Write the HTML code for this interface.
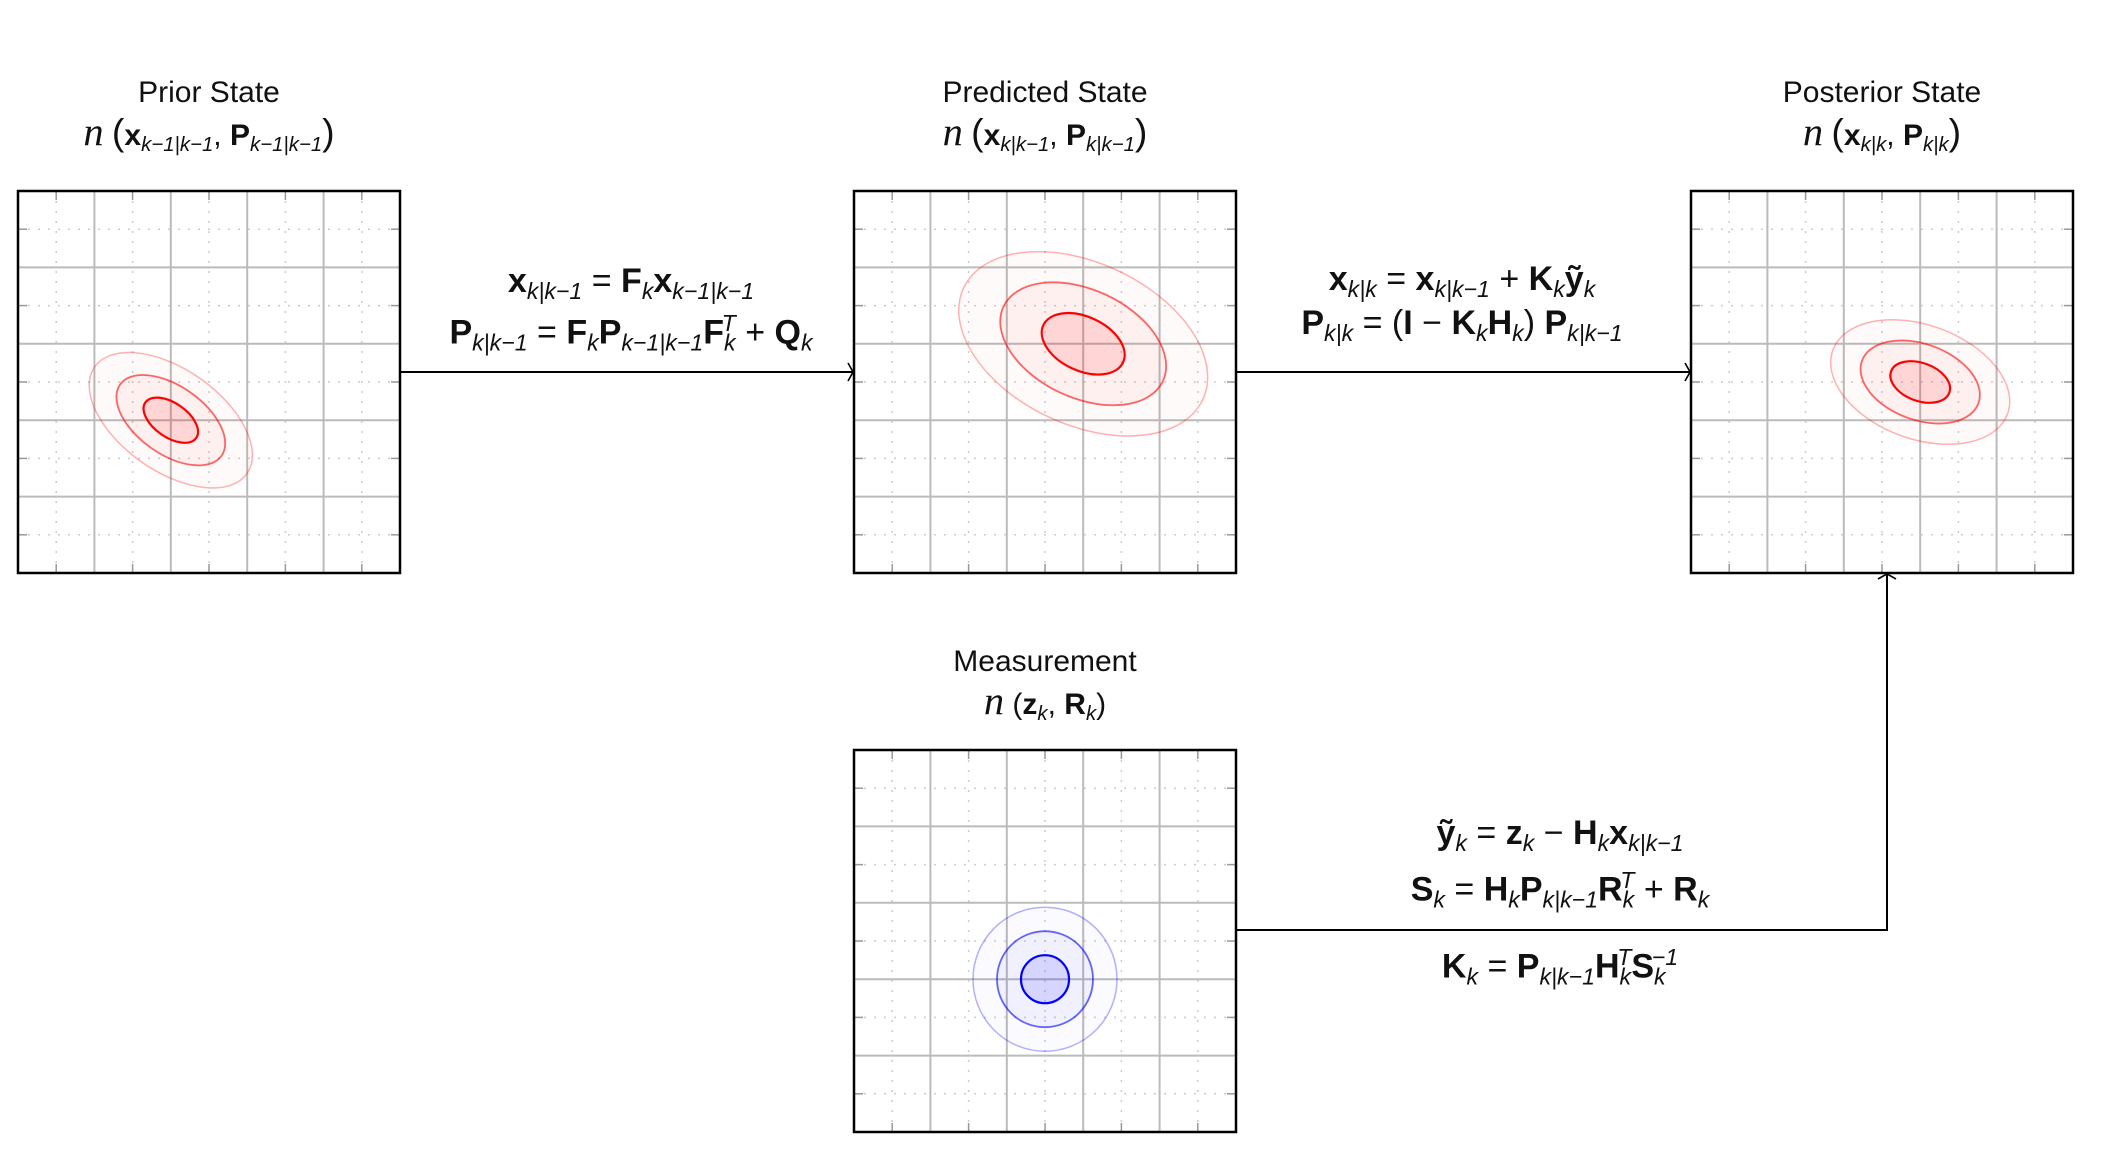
<!DOCTYPE html>
<html><head><meta charset="utf-8"><style>
html,body{margin:0;padding:0;background:#fff;}
#root{position:relative;width:2113px;height:1165px;overflow:hidden;font-family:"Liberation Sans",sans-serif;color:#111;}
.t{position:absolute;transform:translateX(-50%);white-space:nowrap;text-align:center;}
.title{font-size:30px;}
.eq{font-size:34px;line-height:34px;}
b{font-weight:bold;}
i{font-style:italic;}
sub,sup{font-size:0.68em;font-style:italic;}
sub{vertical-align:-0.3em;}
sup{vertical-align:0.55em;}
.N{font-family:"Liberation Serif",serif;font-style:italic;font-size:1.35em;}
.pa{font-size:1.25em;font-weight:normal;}
svg{position:absolute;left:0;top:0;}
</style></head><body>
<div id="root">
<svg id="svg" width="2113" height="1165"></svg>

<div class="t title" style="left:209px;top:76px;">Prior State</div>
<div class="t title" style="left:209px;top:108px;"><span class="N">n</span> <span class="pa">(</span><b>x</b><sub>k−1|k−1</sub>, <b>P</b><sub>k−1|k−1</sub><span class="pa">)</span></div>

<div class="t title" style="left:1045px;top:76px;">Predicted State</div>
<div class="t title" style="left:1045px;top:108px;"><span class="N">n</span> <span class="pa">(</span><b>x</b><sub>k|k−1</sub>, <b>P</b><sub>k|k−1</sub><span class="pa">)</span></div>

<div class="t title" style="left:1882px;top:76px;">Posterior State</div>
<div class="t title" style="left:1882px;top:108px;"><span class="N">n</span> <span class="pa">(</span><b>x</b><sub>k|k</sub>, <b>P</b><sub>k|k</sub><span class="pa">)</span></div>

<div class="t title" style="left:1045px;top:645px;">Measurement</div>
<div class="t title" style="left:1045px;top:677px;"><span class="N">n</span> (<b>z</b><sub>k</sub>, <b>R</b><sub>k</sub>)</div>

<div class="t eq" style="left:631px;top:264px;"><b>x</b><sub>k|k−1</sub> = <b>F</b><sub>k</sub><b>x</b><sub>k−1|k−1</sub></div>
<div class="t eq" style="left:631px;top:306px;"><b>P</b><sub>k|k−1</sub> = <b>F</b><sub>k</sub><b>P</b><sub>k−1|k−1</sub><b>F</b><sub>k</sub><sup style="margin-left:-0.6em">T</sup> + <b>Q</b><sub>k</sub></div>

<div class="t eq" style="left:1462px;top:262px;"><b>x</b><sub>k|k</sub> = <b>x</b><sub>k|k−1</sub> + <b>K</b><sub>k</sub><b>ỹ</b><sub>k</sub></div>
<div class="t eq" style="left:1462px;top:306px;"><b>P</b><sub>k|k</sub> = (<b>I</b> − <b>K</b><sub>k</sub><b>H</b><sub>k</sub>) <b>P</b><sub>k|k−1</sub></div>

<div class="t eq" style="left:1560px;top:816px;"><b>ỹ</b><sub>k</sub> = <b>z</b><sub>k</sub> − <b>H</b><sub>k</sub><b>x</b><sub>k|k−1</sub></div>
<div class="t eq" style="left:1560px;top:863px;"><b>S</b><sub>k</sub> = <b>H</b><sub>k</sub><b>P</b><sub>k|k−1</sub><b>R</b><sub>k</sub><sup style="margin-left:-0.6em">T</sup> + <b>R</b><sub>k</sub></div>
<div class="t eq" style="left:1560px;top:940px;"><b>K</b><sub>k</sub> = <b>P</b><sub>k|k−1</sub><b>H</b><sub>k</sub><sup style="margin-left:-0.6em">T</sup><b>S</b><sub>k</sub><sup style="margin-left:-0.6em">−1</sup></div>
</div>
<script>
const NS='http://www.w3.org/2000/svg';
const svg=document.getElementById('svg');
// panel data
const panelNames=['prior-panel','predicted-panel','posterior-panel','measurement-panel'];
const panelX=[18,854,1691,854];
const panelY=[191,191,191,750];
const panelSize=382;
// distribution data (fractions of panel, px semi-axes, rotation deg)
const meanX=[0.4,0.6,0.6,0.5];
const meanY=[0.6,0.4,0.5,0.6];
const sigmaA=[31,44,31,24];
const sigmaB=[17,27,19,24];
const angleDeg=[35,25,20,0];
const colors=['red','red','red','blue'];
const sigmaLevels=[3,2,1];

function el(tag,attrs,parent){const e=document.createElementNS(NS,tag);for(const k in attrs)e.setAttribute(k,attrs[k]);(parent||svg).appendChild(e);return e;}

for(let p=0;p<4;p++){
  const x0=panelX[p],y0=panelY[p],S=panelSize;
  const g=el('g',{});
  
  
  for(let i=1;i<10;i++){
    const v=x0+S*i/10,h=y0+S*i/10;
    if(i%2===0){
      el('line',{x1:v,y1:y0,x2:v,y2:y0+S,stroke:'#bbb','stroke-width':2},g);
      el('line',{x1:x0,y1:h,x2:x0+S,y2:h,stroke:'#bbb','stroke-width':2},g);
    }else{
      el('line',{x1:v,y1:y0,x2:v,y2:y0+S,stroke:'#ccc','stroke-width':1.5,'stroke-dasharray':'2 8'},g);
      el('line',{x1:x0,y1:h,x2:x0+S,y2:h,stroke:'#ccc','stroke-width':1.5,'stroke-dasharray':'2 8'},g);
      el('line',{x1:v,y1:y0,x2:v,y2:y0+9,stroke:'#999','stroke-width':1.5},g);
      el('line',{x1:v,y1:y0+S,x2:v,y2:y0+S-9,stroke:'#999','stroke-width':1.5},g);
      el('line',{x1:x0,y1:h,x2:x0+9,y2:h,stroke:'#999','stroke-width':1.5},g);
      el('line',{x1:x0+S,y1:h,x2:x0+S-9,y2:h,stroke:'#999','stroke-width':1.5},g);
    }
  }
  const cx=x0+meanX[p]*S,cy=y0+meanY[p]*S;
  const rgb=colors[p]==='red'?'255,0,0':'0,0,255';
  const fills=[0.02,0.04,0.11],strokes=[0.3,0.6,1],widths=[1.5,1.8,2.2];
  sigmaLevels.forEach((s,k)=>{
    const e=el('ellipse',{cx:cx,cy:cy,rx:sigmaA[p]*s,ry:sigmaB[p]*s,transform:`rotate(${angleDeg[p]} ${cx} ${cy})`,fill:`rgba(${rgb},${fills[k]})`,stroke:`rgba(${rgb},${strokes[k]})`,'stroke-width':widths[k]},g);
    
    
  });
  el('rect',{x:x0,y:y0,width:S,height:S,fill:'none',stroke:'#000','stroke-width':2.5},g);
}
function arrow(d,tip,dir,name){
  const g=el('g',{});
  
  
  el('path',{d:d,fill:'none',stroke:'#000','stroke-width':2},g);
  const [x,y]=tip;
  const hd=dir==='r'?`M${x-5},${y-9} Q${x-1},${y-2} ${x},${y} Q${x-1},${y+2} ${x-5},${y+9}`:`M${x-9},${y+5} Q${x-2},${y+1} ${x},${y} Q${x+2},${y+1} ${x+9},${y+5}`;
  el('path',{d:hd,fill:'none',stroke:'#000','stroke-width':1.6},g);
}
arrow('M400,372 L853,372',[853,372],'r','predict-arrow');
arrow('M1236,372 L1690,372',[1690,372],'r','update-arrow');
arrow('M1236,930 L1887,930 L1887,574',[1887,574],'u','measurement-arrow');
</script>
</body></html>
